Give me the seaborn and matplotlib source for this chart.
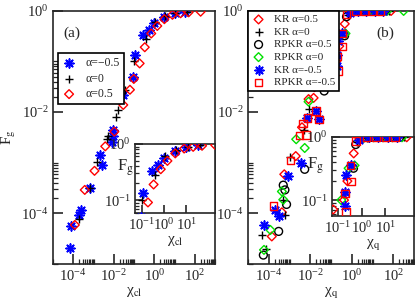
import numpy as np
import matplotlib
matplotlib.use("Agg")
import matplotlib.pyplot as plt
import matplotlib.ticker as mticker
import seaborn as sns

# ---------------- data: panel (a) ----------------
a_m05_x = [6.6e-5, 7.9e-5, 2.0e-4, 2.3e-4, 6.9e-4, 2.1e-3, 2.6e-3, 7.9e-3, 8.7e-3, 9.5e-3,
           2.75e-2, 9.1e-2, 0.11, 0.275, 0.56, 1.0, 3.16, 10.0, 31.6]
a_m05_y = [2.1e-5, 5.5e-5, 9.3e-5, 1.17e-4, 3.2e-4, 1.4e-3, 9.1e-4, 2.6e-3, 3.4e-3, 4.5e-3,
           2.2e-2, 5.0e-2, 0.135, 0.33, 0.42, 0.56, 0.76, 0.89, 0.955]
a_0_x = [1.86e-4, 6.9e-4, 1.5e-3, 4.6e-3, 5.5e-3, 1.3e-2, 1.66e-2, 3.5e-2, 0.1, 0.41,
         1.12, 3.5, 11.2, 40.0]
a_0_y = [7.9e-5, 3.2e-4, 1.05e-3, 3.0e-3, 3.4e-3, 8.1e-3, 1.1e-2, 2.75e-2, 0.1, 0.28,
         0.6, 0.78, 0.89, 0.955]
a_05_x = [1.2e-4, 3.7e-4, 1.12e-3, 3.8e-3, 1.07e-2, 2.95e-2, 6.3e-2, 9.8e-2, 0.19, 0.34,
          0.71, 1.41, 3.16, 7.9, 20.0, 50.0, 195.0]
a_05_y = [5.9e-5, 2.9e-4, 6.9e-4, 2.1e-3, 4.1e-3, 1.38e-2, 2.75e-2, 4.5e-2, 9.1e-2, 0.19,
          0.355, 0.50, 0.68, 0.83, 0.89, 0.93, 0.955]
labels_a = ["α=−0.5", "α=0", "α=0.5"]

# ---------------- data: panel (b) ----------------
kr05_x = [1.4e-4, 4.3e-4, 5.6e-4, 2.0e-3, 4.0e-3, 8.3e-3, 1.45e-2, 1.6e-2, 2.3e-2, 6.3e-2,
          0.18, 0.25, 0.46, 0.79, 2.0, 5.0, 12.6, 31.6, 79.0]
kr05_y = [3.5e-5, 1.05e-4, 5.9e-4, 1.35e-3, 5.0e-3, 1.8e-2, 1.9e-2, 3.1e-2, 4.0e-2, 7.1e-2,
          0.10, 0.20, 0.55, 0.93, 0.98, 0.99, 0.99, 0.99, 0.99]
kr0_x = [4.6e-5, 7.6e-5, 5.0e-4, 6.0e-4, 1.05e-3, 5.0e-3, 8.3e-3, 2.0e-2, 0.2, 0.35,
         0.63, 1.6, 4.0, 10.0, 25.0, 63.0]
kr0_y = [3.8e-5, 2.0e-5, 1.86e-4, 9.3e-5, 1.3e-3, 4.5e-3, 1.15e-2, 3.5e-2, 0.126, 0.355,
         0.83, 0.98, 0.99, 0.99, 0.99, 0.99]
rp05_x = [5.5e-5, 3.0e-4, 7.2e-4, 6.0e-4, 5.0e-4, 5.4e-3, 4.7e-2, 0.45, 0.56, 1.0,
          2.5, 6.3, 15.8, 40.0]
rp05_y = [1.5e-5, 4.4e-5, 1.5e-4, 2.9e-4, 3.6e-4, 7.4e-4, 2.6e-2, 0.32, 0.76, 0.95,
          0.99, 0.99, 0.99, 0.99]
rp0_x = [5.9e-5, 1.2e-4, 5.0e-4, 4.3e-4, 2.1e-3, 5.4e-3, 8.3e-3, 2.3e-2, 0.138, 0.28,
         0.5, 1.26, 3.2, 7.9, 20.0, 50.0, 316.0]
rp0_y = [1.9e-5, 4.7e-5, 1.86e-4, 2.7e-4, 2.9e-3, 1.95e-3, 1.6e-2, 3.8e-2, 0.10, 0.32,
         0.355, 0.98, 0.99, 0.99, 0.99, 0.99, 0.99]
krm05_x = [5.9e-5, 2.1e-4, 3.0e-4, 8.7e-4, 3.5e-3, 7.2e-3, 1.9e-2, 2.6e-2, 0.19, 0.19,
           0.22, 0.34, 0.79, 2.0, 5.0, 12.6, 31.6]
krm05_y = [5.9e-5, 1.17e-4, 8.7e-5, 5.4e-4, 1.0e-3, 7.6e-3, 1.05e-2, 7.2e-3, 0.135, 0.08,
           0.25, 0.355, 0.89, 0.99, 0.99, 0.99, 0.99]
rpm05_x = [1.74e-4, 1.15e-3, 3.1e-3, 6.3e-3, 4.5e-3, 7.2e-3, 1.9e-2, 2.6e-2, 0.22, 0.2,
           0.36, 0.34, 0.575, 1.6, 4.0, 10.0, 25.0]
rpm05_y = [1.4e-4, 1.1e-3, 3.4e-3, 3.5e-3, 6.0e-3, 7.6e-3, 1.05e-2, 7.2e-3, 6.5e-2, 0.126,
           0.195, 0.355, 0.86, 0.99, 0.99, 0.99, 0.99]
labels_b = ["KR α=0.5", "KR α=0", "RPKR α=0.5", "RPKR α=0", "KR α=-0.5", "RPKR α=-0.5"]

RED, BLUE, GREEN, BLACK = "#ff0000", "#0000ff", "#00e000", "#000000"
STAR = (8, 2, 0)

sns.set_style("ticks")
plt.rcParams["font.family"] = ["Liberation Serif", "DejaVu Serif"]
plt.rcParams["mathtext.fontset"] = "stix"
plt.rcParams["axes.linewidth"] = 1.2

fig = plt.figure(figsize=(4.15, 3.05), dpi=100)
axA = fig.add_axes([53/415, 1-264/305, 162/415, 253.3/305])
axB = fig.add_axes([248/415, 1-264/305, 166/415, 253.3/305])
insA = fig.add_axes([135/415, 1-213/305, 80/415, 69/305])
insB = fig.add_axes([332/415, 1-216/305, 82/415, 79/305])


def draw(ax, x, y, marker, col, s, lw, label=None, open_=True):
    kw = dict(x=x, y=y, ax=ax, marker=marker, s=s, linewidth=lw, zorder=3)
    if open_:
        kw.update(facecolor="none", edgecolor=col, color=col)
    else:
        kw.update(color=col, edgecolor=col)
    if label is not None:
        kw["label"] = label
    sns.scatterplot(**kw)


def panel_a(ax, lab=True):
    draw(ax, a_m05_x, a_m05_y, STAR, BLUE, 40, 1.2, labels_a[0] if lab else None, open_=False)
    draw(ax, a_0_x, a_0_y, "+", BLACK, 38, 1.0, labels_a[1] if lab else None, open_=False)
    draw(ax, a_05_x, a_05_y, "D", RED, 20, 1.0, labels_a[2] if lab else None)


def panel_b(ax, lab=True):
    series = [
        (kr05_x, kr05_y, "D", RED, 20, 1.0, True),
        (kr0_x, kr0_y, "+", BLACK, 38, 1.0, False),
        (rp05_x, rp05_y, "o", BLACK, 32, 1.0, True),
        (rp0_x, rp0_y, "D", GREEN, 20, 1.0, True),
        (krm05_x, krm05_y, STAR, BLUE, 40, 1.2, False),
        (rpm05_x, rpm05_y, "s", RED, 28, 1.0, True),
    ]
    for (x, y, m, c, s, lw, op), l in zip(series, labels_b):
        draw(ax, x, y, m, c, s, lw, l if lab else None, open_=op)


panel_a(axA)
panel_a(insA, lab=False)
panel_b(axB)
panel_b(insB, lab=False)

main_minor = [k * 10.0**e for e in (-6, -4, -2, 0, 2) for k in range(2, 11)]
for ax in (axA, axB):
    ax.set_xscale("log")
    ax.set_yscale("log")
    ax.set_xlim(1e-5, 1e3)
    ax.set_ylim(1e-5, 1)
    ax.xaxis.set_major_locator(mticker.FixedLocator([1e-4, 1e-2, 1, 1e2]))
    ax.yaxis.set_major_locator(mticker.FixedLocator([1e-4, 1e-2, 1]))
    ax.xaxis.set_minor_locator(mticker.FixedLocator(main_minor))
    ax.yaxis.set_minor_locator(mticker.FixedLocator(main_minor))
    ax.xaxis.set_major_formatter(mticker.LogFormatterMathtext())
    ax.yaxis.set_major_formatter(mticker.LogFormatterMathtext())
    ax.xaxis.set_minor_formatter(mticker.NullFormatter())
    ax.yaxis.set_minor_formatter(mticker.NullFormatter())
    ax.tick_params(which="major", direction="in", length=7, width=1.2, labelsize=10.5, pad=3)
    ax.tick_params(which="minor", direction="in", length=3.5, width=0.9)

for ax, xl in ((insA, (0.05, 190)), (insB, (0.056, 160))):
    ax.set_xscale("log")
    ax.set_yscale("log")
    ax.set_xlim(*xl)
    ax.set_ylim(0.059 if ax is insA else 0.056, 1.0)
    ax.xaxis.set_major_locator(mticker.FixedLocator([0.1, 1, 10]))
    ax.yaxis.set_major_locator(mticker.FixedLocator([0.1, 1]))
    ax.xaxis.set_minor_locator(mticker.LogLocator(base=10, subs=np.arange(2, 11)))
    ax.yaxis.set_minor_locator(mticker.LogLocator(base=10, subs=np.arange(2, 10)))
    ax.xaxis.set_major_formatter(mticker.LogFormatterMathtext())
    ax.yaxis.set_major_formatter(mticker.LogFormatterMathtext())
    ax.xaxis.set_minor_formatter(mticker.NullFormatter())
    ax.yaxis.set_minor_formatter(mticker.NullFormatter())
    ax.tick_params(which="major", direction="in", length=6, width=1.2, labelsize=10.5, pad=3)
    ax.tick_params(which="minor", direction="in", length=3, width=0.9)
    ax.set_facecolor("white")

for ax in (axA, axB, insA, insB):
    for sp in ax.spines.values():
        sp.set_visible(True)
        sp.set_linewidth(1.2)

axA.set_xlabel("χ$_{\\rm cl}$", fontsize=11, labelpad=1)
axB.set_xlabel("χ$_{\\rm q}$", fontsize=11, labelpad=1)
axA.set_ylabel("F$_{\\rm g}$", fontsize=11, labelpad=2)
axB.set_ylabel("")
insA.set_xlabel("χ$_{\\rm cl}$", fontsize=11, labelpad=1)
insB.set_xlabel("χ$_{\\rm q}$", fontsize=11, labelpad=1)
insA.set_ylabel("F$_{\\rm g}$", fontsize=12, rotation=0)
insB.set_ylabel("F$_{\\rm g}$", fontsize=12, rotation=0)
insA.yaxis.set_label_coords(-0.12, 0.5)
insB.yaxis.set_label_coords(-0.2, 0.5)

axA.text(72/415, 1-33/305, "(a)", transform=fig.transFigure, fontsize=11, ha="center", va="center")
axB.text(385/415, 1-33/305, "(b)", transform=fig.transFigure, fontsize=11, ha="center", va="center")

legA = axA.legend(loc="upper left", bbox_to_anchor=(0.03, 0.833), borderaxespad=0,
                  fontsize=8.5, frameon=True, fancybox=False, framealpha=1,
                  edgecolor="black", handlelength=1.2, handletextpad=0.8,
                  borderpad=0.35, labelspacing=0.3)
legA.get_frame().set_linewidth(1.2)
legB = axB.legend(loc="upper left", bbox_to_anchor=(0.0, 1.0), borderaxespad=0,
                  fontsize=8, frameon=True, fancybox=False, framealpha=1,
                  edgecolor="black", handlelength=1.2, handletextpad=0.8,
                  borderpad=0.35, labelspacing=0.25)
legB.get_frame().set_linewidth(1.2)

fig.savefig("out.png", dpi=100)
